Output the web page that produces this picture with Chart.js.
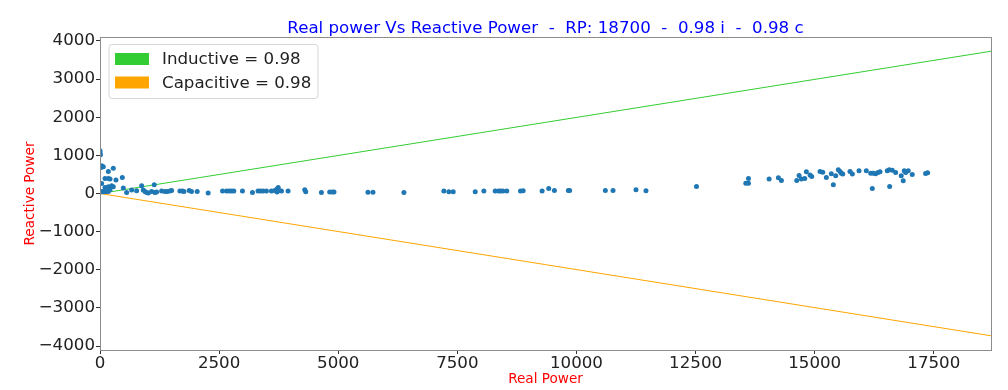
<!DOCTYPE html>
<html>
<head>
<meta charset="utf-8">
<script src="https://cdn.jsdelivr.net/npm/chart.js@4.4.1/dist/chart.umd.min.js"></script>
<style>
    html, body { margin: 0; padding: 0; background: #fff; }
    #wrap { width: 1008px; height: 390px; }
</style>
</head>
<body>
<div id="wrap"><canvas id="chart" width="1008" height="390"></canvas></div>
<script>
// measured points (real power, reactive power)
const realPower = [
    0, 0, 10, 35, 70, 21, 175, 279, 105, 175, 210, 335, 468, 35, 105, 175, 245, 279, 140, 210,
    35, 70, 105, 140, 175, 10, 489, 559, 664, 769, 874, 908, 943, 978, 1013, 1138, 1083, 1153, 1188, 1293,
    1362, 1411, 1467, 1502, 1677, 1733, 1761, 1872, 1921, 2040, 2270,
    2572, 2656, 2710, 2760, 2808, 2990, 3200, 3317, 3367, 3422, 3493, 3598, 3668, 3716, 3716, 3758, 3740, 3808, 3947,
    4297, 4318, 4647, 4821, 4877, 4911, 5624, 5729,
    6378, 7217, 7321, 7413, 7875, 8056, 8294, 8363, 8405, 8454, 8537, 8825, 8881, 9279, 9418, 9537, 9830, 9857,
    10606, 10767, 11249, 11459,
    12519, 13554, 13610, 13610, 14043, 14238, 14301, 14623, 14672, 14720, 14791, 14825, 14902, 14937,
    15112, 15168, 15244, 15349, 15391, 15441, 15496, 15531, 15559, 15588, 15741, 15790, 15930,
    16083, 16175, 16230, 16209, 16279, 16328, 16370, 16523, 16565, 16628, 16699, 16573, 16816, 16858, 16879, 16909, 16963,
    17047, 17327, 17369
]
const reactivePower = [
    1118, 1073, 1013, 725, 699, 680, 576, 665, 393, 393, 377, 351, 419, 262, 157, 175, 202, 175, 120, 100,
    55, 45, 55, 55, 55, 40, 141, 26, 89, 70, 202, 89, 52, 26, 10, 228, 52, 26, 40, 63,
    52, 52, 63, 80, 63, 63, 52, 80, 52, 52, 10,
    63, 63, 63, 63, 63, 63, 26, 63, 63, 63, 63, 63, 80, 120, 40, 80, 157, 63, 63,
    100, 45, 26, 40, 40, 40, 35, 35,
    26, 63, 45, 45, 45, 63, 63, 63, 63, 63, 63, 63, 70, 63, 131, 79, 79, 79,
    79, 79, 97, 70,
    183, 272, 272, 393, 377, 411, 340, 340, 471, 377, 393, 568, 482, 445,
    576, 560, 419, 516, 228, 463, 620, 576, 534, 508, 576, 508, 594,
    594, 534, 534, 131, 516, 550, 568, 594, 620, 612, 550, 183, 463, 332, 594, 550, 594,
    497, 524, 542
]

// power factor limit lines
const lineX = [0, 18700]
const inductiveQ = [0, 3730]
const capacitiveQ = [0, -3730]

const xTicks = [0, 2500, 5000, 7500, 10000, 12500, 15000, 17500]
const yTicks = [-4000, -3000, -2000, -1000, 0, 1000, 2000, 3000, 4000]

const titleText = 'Real power Vs Reactive Power  -  RP: 18700  -  0.98 i  -  0.98 c'
const FONT = "'DejaVu Sans', sans-serif"

const decorations = {
    id: 'decorations',
    afterDraw(chart) {
        const { ctx, chartArea: a } = chart
        ctx.save()

        // frame
        ctx.strokeStyle = '#8c8c8c'
        ctx.lineWidth = 1
        ctx.strokeRect(a.left + 0.5, a.top + 0.5, a.right - a.left, a.bottom - a.top)

        // title
        ctx.fillStyle = '#0000ff'
        ctx.font = '16.67px ' + FONT
        ctx.textAlign = 'center'
        ctx.textBaseline = 'alphabetic'
        ctx.fillText(titleText, (a.left + a.right) / 2, 33)

        // axis titles
        ctx.fillStyle = '#ff0000'
        ctx.font = '13.6px ' + FONT
        ctx.fillText('Real Power', (a.left + a.right) / 2, 383)
        ctx.save()
        ctx.translate(34, (a.top + a.bottom) / 2)
        ctx.rotate(-Math.PI / 2)
        ctx.fillText('Reactive Power', 0, 0)
        ctx.restore()

        // legend
        const lx = 109, ly = 44.5, lw = 209, lh = 54
        ctx.beginPath()
        ctx.roundRect(lx, ly, lw, lh, 3)
        ctx.fillStyle = 'rgba(255,255,255,0.85)'
        ctx.fill()
        ctx.strokeStyle = '#d6d6d6'
        ctx.stroke()

        const items = chart.data.datasets.filter(d => d.showInLegend)
        ctx.font = '16.67px ' + FONT
        ctx.textAlign = 'left'
        ctx.textBaseline = 'middle'
        items.forEach((d, i) => {
            const y = 59 + i * 23.5
            ctx.fillStyle = d.borderColor
            ctx.fillRect(115, y - 6, 34, 12)
            ctx.fillStyle = '#222'
            ctx.fillText(d.label, 162, y + 1)
        })
        ctx.restore()
    }
}

const fmt = v => (v < 0 ? '\u2212' + Math.abs(v) : String(v))

new Chart(document.getElementById('chart'), {
    type: 'scatter',
    data: {
        datasets: [
            {
                label: 'Points',
                data: realPower.map((x, i) => ({ x: x, y: reactivePower[i] })),
                backgroundColor: '#1f77b4',
                borderWidth: 0,
                pointRadius: 2.5
            },
            {
                label: 'Inductive = 0.98',
                showInLegend: true,
                type: 'line',
                data: lineX.map((x, i) => ({ x: x, y: inductiveQ[i] })),
                borderColor: '#32cd32',
                borderWidth: 1,
                pointRadius: 0
            },
            {
                label: 'Capacitive = 0.98',
                showInLegend: true,
                type: 'line',
                data: lineX.map((x, i) => ({ x: x, y: capacitiveQ[i] })),
                borderColor: '#ffa500',
                borderWidth: 1,
                pointRadius: 0
            }
        ]
    },
    options: {
        responsive: false,
        animation: false,
        devicePixelRatio: 1,
        layout: { padding: { left: 0, top: 37, right: 17, bottom: 0 } },
        plugins: {
            legend: { display: false },
            title: { display: false },
            tooltip: { enabled: false }
        },
        scales: {
            x: {
                type: 'linear',
                min: 0,
                max: 18700,
                afterBuildTicks: s => { s.ticks = xTicks.map(v => ({ value: v })) },
                afterFit: s => { s.height = 40 },
                grid: { drawOnChartArea: false, drawTicks: true, tickLength: 4, color: '#333' },
                border: { display: true, color: '#8c8c8c' },
                ticks: {
                    color: '#222',
                    font: { size: 16.67, family: FONT },
                    padding: 0,
                    maxRotation: 0,
                    callback: v => fmt(v)
                }
            },
            y: {
                type: 'linear',
                min: -4103,
                max: 4103,
                afterBuildTicks: s => { s.ticks = yTicks.map(v => ({ value: v })) },
                afterFit: s => { s.width = 100 },
                grid: { drawOnChartArea: false, drawTicks: true, tickLength: 4, color: '#333' },
                border: { display: true, color: '#8c8c8c' },
                ticks: {
                    color: '#222',
                    font: { size: 16.67, family: FONT },
                    padding: 1,
                    callback: v => fmt(v)
                }
            }
        }
    },
    plugins: [decorations]
})
</script>
</body>
</html>
